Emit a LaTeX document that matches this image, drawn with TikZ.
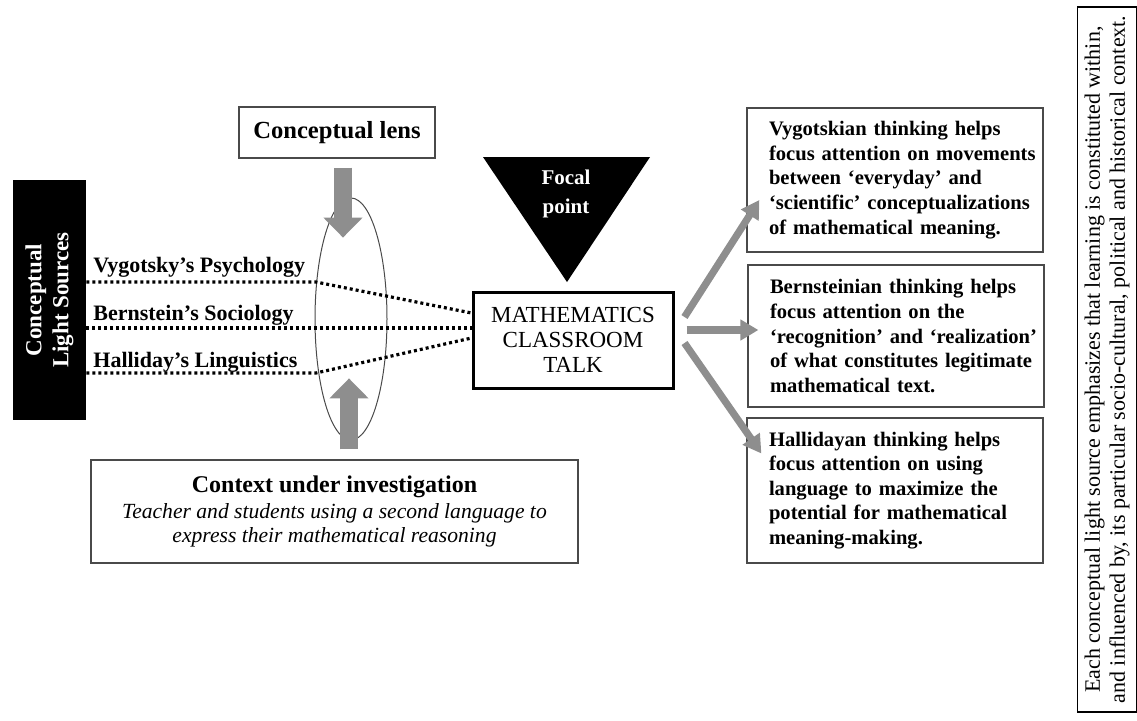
\documentclass[tikz,border=0pt]{standalone}
\usepackage{fontspec}
\setmainfont{Liberation Serif}
\usetikzlibrary{arrows.meta,calc}
\definecolor{arrowgray}{HTML}{8E8E8E}
\definecolor{linegray}{HTML}{4A4A4A}

\begin{document}
\begin{tikzpicture}[x=0.5pt,y=-0.5pt,
    plainbox/.style={draw=linegray,line width=0.6pt,inner sep=0pt},
    readbox/.style={plainbox,text width=148pt,execute at begin node={\leftskip=11pt\relax},
        font=\fontsize{10.3}{12.3}\selectfont\bfseries},
    srclbl/.style={anchor=base west,inner sep=0pt,font=\fontsize{11}{13}\selectfont\bfseries},
    ray/.style={line width=1.6pt,dash pattern=on 1.5pt off 1.5pt},
    bigarrow/.style={draw=arrowgray,line width=9pt,-{Triangle[length=10pt,width=19pt]}},
    smallarrow/.style={draw=arrowgray,line width=3.6pt,-{Triangle[length=9pt,width=10pt]}}]
    \useasboundingbox (0,0) rectangle (1137,720);
    % light sources and lens
    \node[fill=black,text=white,rotate=90,minimum width=120pt,minimum height=36.5pt,align=center,
        font=\fontsize{11.5}{13.5}\selectfont\bfseries] (lsrc) at (49.5,300) {Conceptual\\Light Sources};
    \node[plainbox,minimum width=98pt,minimum height=25.5pt,font=\fontsize{12.3}{14}\selectfont\bfseries]
        (lens) at (337,132.5) {Conceptual lens};
    \node[plainbox,minimum width=243.5pt,minimum height=51.5pt,align=center] (ctx) at (334.5,511.5)
        {\fontsize{12}{14}\selectfont\bfseries Context under investigation\\[1pt]
         \fontsize{10.8}{12}\selectfont\itshape Teacher and students using a second language to\\
         \fontsize{10.8}{12}\selectfont\itshape express their mathematical reasoning};
    \draw[linegray,line width=0.5pt] (351,319) ellipse (36 and 121);
    % focal point
    \fill (483,157) -- (650,157) -- (567,282) -- cycle;
    \node[text=white,align=center,font=\fontsize{10.5}{14.5}\selectfont\bfseries] (focal) at (566,194) {Focal\\point};
    \node[draw,line width=1.5pt,minimum width=100pt,minimum height=48pt,align=center,
        font=\fontsize{11.5}{12.5}\selectfont] (talk) at (573,340) {MATHEMATICS\\CLASSROOM\\TALK};
    % rays through the lens
    \foreach \n/\y/\ly/\yt/\txt in {v/282/272/-27/Vygotsky’s Psychology,
                                  b/328/320/-12/Bernstein’s Sociology,
                                  h/373/367/-2/Halliday’s Linguistics} {
        \coordinate (s\n) at (lsrc.south |- 0,\y);
        \coordinate (k\n) at (316,\y);
        \node[srclbl] (lbl\n) at (93,\ly) {\txt};
        \draw[ray] (s\n) -- (k\n) -- ($(talk.west)+(0,\yt)$);
    }
    \draw[bigarrow] ($(lens.south)+(6,9)$) -- ($(lens.south)+(6,79)$);
    \draw[bigarrow] ($(ctx.north)+(14.5,-10)$) -- ($(ctx.north)+(14.5,-81)$);
    % readings
    \node[readbox,minimum height=72pt] (vyg) at (895,180)
        {Vygotskian thinking helps\\focus attention on movements\\between ‘everyday’ and\\‘scientific’ conceptualizations\\of mathematical meaning.};
    \node[readbox,minimum height=71pt] (bern) at (896,336)
        {Bernsteinian thinking helps\\focus attention on the\\‘recognition’ and ‘realization’\\of what constitutes legitimate\\mathematical text.};
    \node[readbox,minimum height=72.5pt] (hall) at (895,490.5)
        {Hallidayan thinking helps\\focus attention on using\\language to maximize the\\potential for mathematical\\meaning-making.};
    \draw[smallarrow] ($(talk.east)+(10,-23)$) -- ($(vyg.west)+(13,20)$);
    \draw[smallarrow] ($(talk.east)+(12,-10)$) -- ($(bern.west)+(11,-6)$);
    \draw[smallarrow] ($(talk.east)+(10,3)$) -- ($(hall.west)+(15,-37)$);
    \node[draw,line width=0.6pt,rotate=90,minimum width=352.5pt,minimum height=29pt,align=center,
        font=\fontsize{11}{12.5}\selectfont] (note) at (1107,359.5)
        {Each conceptual light source emphasizes that learning is constituted within,\\
         and influenced by, its particular socio-cultural, political and historical context.};
\end{tikzpicture}
\end{document}
